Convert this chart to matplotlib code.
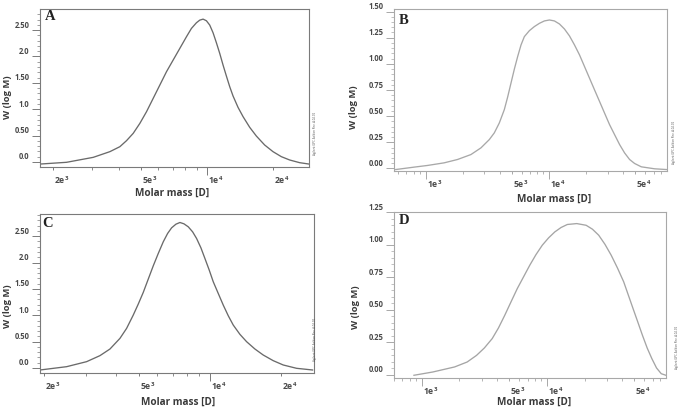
import matplotlib
matplotlib.use('Agg')
import matplotlib.pyplot as plt
import numpy as np
from matplotlib.transforms import ScaledTranslation

plt.rcParams['font.family'] = ['Open Sans', 'DejaVu Sans']
plt.rcParams['mathtext.default'] = 'regular'

# ---------------- data ----------------
a_mass = [1760, 2301, 3043, 3624, 4023, 4313, 4627, 4961, 5319, 5704, 6115, 6557, 7031,
          7540, 8084, 8517, 8974, 9293, 9623, 9965, 10318, 10685, 11064, 11458, 11864,
          12286, 12722, 13175, 13881, 14632, 15686, 16818, 18347, 20020, 21850, 23840,
          26470, 29080]
a_w = [-0.038, -0.006, 0.088, 0.196, 0.29, 0.404, 0.543, 0.732, 0.953, 1.206, 1.458, 1.711,
       1.932, 2.153, 2.374, 2.532, 2.639, 2.689, 2.708, 2.677, 2.595, 2.449, 2.26, 2.058,
       1.837, 1.629, 1.427, 1.25, 1.035, 0.859, 0.657, 0.492, 0.322, 0.196, 0.101, 0.038,
       -0.013, -0.038]

b_mass = [574, 809, 1038, 1416, 1817, 2330, 2809, 3282, 3603, 3956, 4342, 4622, 4918,
          5234, 5570, 5930, 6308, 6928, 7603, 8348, 9165, 10062, 11046, 12130, 13316,
          14620, 16050, 17620, 19340, 21240, 23310, 25600, 28100, 30860, 33870, 37190,
          40830, 44820, 49200, 55740, 71480, 88900]
b_w = [-0.01, 0.013, 0.029, 0.054, 0.086, 0.133, 0.197, 0.276, 0.34, 0.435, 0.562, 0.683,
       0.816, 0.949, 1.07, 1.181, 1.26, 1.317, 1.356, 1.387, 1.41, 1.419, 1.41, 1.381,
       1.333, 1.267, 1.181, 1.086, 0.975, 0.863, 0.752, 0.641, 0.53, 0.419, 0.324, 0.229,
       0.149, 0.086, 0.048, 0.016, -0.003, -0.01]

c_mass = [1918, 2485, 3017, 3434, 3786, 4172, 4450, 4748, 4984, 5232, 5493, 5767, 6054,
          6355, 6629, 6892, 7187, 7472, 7769, 8103, 8452, 8785, 9162, 9526, 9935, 10330,
          10843, 11384, 11951, 12546, 13387, 14282, 15485, 16788, 18500, 20390, 23210, 27120]
c_w = [-0.038, 0.025, 0.12, 0.234, 0.36, 0.562, 0.751, 1.004, 1.212, 1.433, 1.686, 1.938,
       2.172, 2.393, 2.551, 2.658, 2.727, 2.759, 2.734, 2.677, 2.582, 2.456, 2.279, 2.077,
       1.856, 1.635, 1.414, 1.193, 0.991, 0.814, 0.638, 0.499, 0.36, 0.246, 0.139, 0.057,
       -0.006, -0.038]

d_mass = [866, 1223, 1830, 2305, 2739, 3163, 3653, 4100, 4600, 5161, 5791, 6497, 7290,
          8178, 9180, 10300, 11556, 12966, 14548, 17290, 20550, 23070, 25880, 29040, 32580,
          36560, 41020, 44710, 48740, 53130, 57920, 63150, 68840, 75050, 81850, 89100]
d_w = [-0.005, 0.02, 0.059, 0.097, 0.148, 0.205, 0.277, 0.359, 0.456, 0.559, 0.661, 0.751,
       0.841, 0.923, 0.995, 1.051, 1.097, 1.131, 1.154, 1.161, 1.148, 1.118, 1.072, 1.002,
       0.918, 0.82, 0.713, 0.61, 0.507, 0.405, 0.302, 0.205, 0.123, 0.051, 0.007, -0.005]

ac_yticks = [0.0, 0.5, 1.0, 1.5, 2.0, 2.5]
ac_ylabels = ["0.0", "0.50", "1.0", "1.50", "2.0", "2.50"]
b_yticks = [0.0, 0.25, 0.5, 0.75, 1.0, 1.25, 1.5]
b_ylabels = ["0.00", "0.25", "0.50", "0.75", "1.00", "1.25", "1.50"]
d_yticks = [0.0, 0.25, 0.5, 0.75, 1.0, 1.25]
d_ylabels = ["0.00", "0.25", "0.50", "0.75", "1.00", "1.25"]

ac_xticks = [2e3, 5e3, 1e4, 2e4]
ac_xlabels = ["2e$^{3}$", "5e$^{3}$", "1e$^{4}$", "2e$^{4}$"]
ac_xminor = [3e3, 4e3, 6e3, 7e3, 8e3, 9e3]
bd_xticks = [1e3, 5e3, 1e4, 5e4]
bd_xlabels = ["1e$^{3}$", "5e$^{3}$", "1e$^{4}$", "5e$^{4}$"]
bd_xminor = [6e2, 7e2, 8e2, 9e2, 2e3, 3e3, 4e3, 6e3, 7e3, 8e3, 9e3,
             2e4, 3e4, 4e4, 6e4, 7e4, 8e4]

panel_letters = ["A", "B", "C", "D"]
x_title = "Molar mass [D]"
y_title = "W (log M)"
stamp = "Agilent GPC Addon Rev. A.02.02"

W, H = 682, 411
fig = plt.figure(figsize=(W / 100, H / 100), dpi=100)
fig.patch.set_facecolor('white')


def rect(l, t, r, b):
    return [l / W, 1 - b / H, (r - l) / W, (b - t) / H]


panels = [
    dict(rect=rect(40, 9, 309, 167), x=a_mass, y=a_w, xlim=(1742, 29200), ylim=(-0.095, 2.90),
         yt=ac_yticks, yl=ac_ylabels, ymin=0.1, xt=ac_xticks, xl=ac_xlabels, xm=ac_xminor,
         long=[1e4], lc='#6a6a6a', sc='#7a7a7a', letter=(50, 17), xlab=(172, 193), ylab=(8, 97),
         stamp=(315, 133)),
    dict(rect=rect(394, 9, 667, 171), x=b_mass, y=b_w, xlim=(556, 90000), ylim=(-0.024, 1.524),
         yt=b_yticks, yl=b_ylabels, ymin=0.05, xt=bd_xticks, xl=bd_xlabels, xm=bd_xminor,
         long=[1e3, 1e4], lc='#a8a8a8', sc='#a8a8a8', letter=(404, 20), xlab=(554, 199), ylab=(354, 107),
         stamp=(674, 142)),
    dict(rect=rect(40, 214, 314, 373), x=c_mass, y=c_w, xlim=(1918, 27500), ylim=(-0.095, 2.92),
         yt=ac_yticks, yl=ac_ylabels, ymin=0.1, xt=ac_xticks, xl=ac_xlabels, xm=ac_xminor,
         long=[1e4], lc='#6a6a6a', sc='#7a7a7a', letter=(48, 223), xlab=(178, 402), ylab=(8, 306),
         stamp=(315, 339)),
    dict(rect=rect(394, 212, 666, 378), x=d_mass, y=d_w, xlim=(813, 89300), ylim=(-0.026, 1.248),
         yt=d_yticks, yl=d_ylabels, ymin=0.05, xt=bd_xticks, xl=bd_xlabels, xm=bd_xminor,
         long=[1e3, 1e4], lc='#a5a5a5', sc='#a8a8a8', letter=(404, 220), xlab=(534, 402), ylab=(356, 307),
         stamp=(677, 347)),
]

for p, letter in zip(panels, panel_letters):
    ax = fig.add_axes(p['rect'])
    ax.set_xscale('log')
    ax.plot(p['x'], p['y'], color=p['lc'], lw=0.95, solid_joinstyle='round')
    ax.set_xlim(*p['xlim'])
    ax.set_ylim(*p['ylim'])
    for s in ax.spines.values():
        s.set_color(p['sc'])
        s.set_linewidth(0.8)
    ax.set_yticks(p['yt'], p['yl'])
    ax.set_yticks(np.arange(0, p['ylim'][1], p['ymin']), minor=True)
    ax.set_xticks(p['xt'], p['xl'], ha='left')
    ax.set_xticks(p['xm'], minor=True)
    ax.xaxis.set_minor_formatter(matplotlib.ticker.NullFormatter())
    ax.tick_params(axis='y', which='major', direction='out', length=5.5, width=0.7,
                   color=p['sc'], labelsize=5.5, labelcolor='#4a4a4a', pad=2)
    ax.tick_params(axis='y', which='minor', direction='out', length=2.5, width=0.5, color=p['sc'])
    ax.tick_params(axis='x', which='major', direction='out', length=2.5, width=0.7,
                   color=p['sc'], labelsize=6.2, labelcolor='#4a4a4a', pad=3)
    ax.tick_params(axis='x', which='minor', direction='out', length=2.5, width=0.6, color=p['sc'])
    for t in ax.get_yticklabels():
        t.set_fontweight('bold')
        t.set_transform(t.get_transform() + ScaledTranslation(0, 0.06, fig.dpi_scale_trans))
    for t in ax.get_xticklabels():
        t.set_fontweight('bold')
        t.set_transform(t.get_transform() + ScaledTranslation(0.01, 0, fig.dpi_scale_trans))
    for tk, val in zip(ax.xaxis.get_major_ticks(), p['xt']):
        if val in p['long']:
            tk.tick1line.set_markersize(6)
    ax.text(p['letter'][0] / W, 1 - p['letter'][1] / H, letter, transform=fig.transFigure,
            family=['Liberation Serif', 'DejaVu Serif'], fontweight='bold', fontsize=10.5,
            color='#222222', ha='center', va='center')
    fig.text(p['xlab'][0] / W, 1 - p['xlab'][1] / H, x_title, ha='center', va='center',
             fontsize=7.2, fontweight='bold', color='#3a3a3a')
    fig.text(p['ylab'][0] / W, 1 - p['ylab'][1] / H, y_title, ha='center', va='center',
             rotation=90, fontsize=6.8, fontweight='bold', color='#3a3a3a')
    fig.text(p['stamp'][0] / W, 1 - p['stamp'][1] / H, stamp, ha='center', va='center',
             rotation=90, fontsize=2.2, color='#555555')

fig.savefig('out.png', dpi=100, facecolor='white')
